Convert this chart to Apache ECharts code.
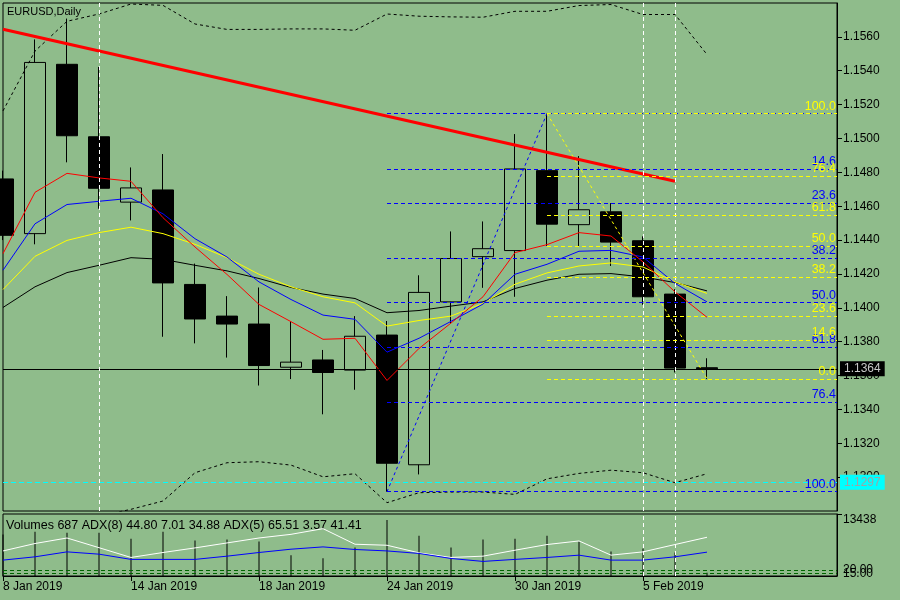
<!DOCTYPE html>
<html>
<head>
<meta charset="utf-8">
<title>EURUSD,Daily</title>
<script src="https://cdn.jsdelivr.net/npm/echarts@6/dist/echarts.min.js"></script>
<style>
    html, body { margin: 0; padding: 0; background: #8fbc8b; }
    #chart { width: 900px; height: 600px; }
</style>
</head>
<body>
<div id="chart"></div>
<script>
// daily bars, 8 Jan 2019 .. 7 Feb 2019
const dates = ['8 Jan 2019', '9 Jan 2019', '10 Jan 2019', '11 Jan 2019', '14 Jan 2019', '15 Jan 2019',
    '16 Jan 2019', '17 Jan 2019', '18 Jan 2019', '21 Jan 2019', '22 Jan 2019', '23 Jan 2019',
    '24 Jan 2019', '25 Jan 2019', '28 Jan 2019', '29 Jan 2019', '30 Jan 2019', '31 Jan 2019',
    '1 Feb 2019', '4 Feb 2019', '5 Feb 2019', '6 Feb 2019', '7 Feb 2019'];

const opens  = [1.14761, 1.14438, 1.15438, 1.15010, 1.14624, 1.14696, 1.14138, 1.13951, 1.13904, 1.13649, 1.13692, 1.13632,
    1.13839, 1.13073, 1.14035, 1.14302, 1.14338, 1.14810, 1.14491, 1.14567, 1.14396, 1.14081, 1.13646];
const closes = [1.14428, 1.15449, 1.15016, 1.14706, 1.14708, 1.14147, 1.13934, 1.13904, 1.13659, 1.13679, 1.13618, 1.13832,
    1.13082, 1.14091, 1.14291, 1.14349, 1.14820, 1.14494, 1.14579, 1.14388, 1.14065, 1.13644, 1.13640];
const lows   = [1.14400, 1.14375, 1.14859, 1.14585, 1.14516, 1.13829, 1.13790, 1.13706, 1.13541, 1.13579, 1.13371, 1.13516,
    1.12914, 1.13016, 1.13908, 1.14118, 1.14065, 1.14365, 1.14365, 1.14247, 1.14018, 1.13618, 1.13579];
const highs  = [1.14810, 1.15585, 1.15708, 1.15422, 1.14829, 1.14908, 1.14261, 1.14069, 1.14120, 1.13922, 1.13751, 1.13951,
    1.13922, 1.14192, 1.14451, 1.14510, 1.15026, 1.15147, 1.14896, 1.14618, 1.14422, 1.14110, 1.13702];

const maRed    = [1.14320, 1.14682, 1.14794, 1.14767, 1.14747, 1.14532, 1.14359, 1.14197, 1.14020, 1.13918, 1.13814, 1.13820,
    1.13571, 1.13760, 1.13910, 1.14065, 1.14326, 1.14373, 1.14444, 1.14424, 1.14271, 1.14094, 1.13944];
const maBlue   = [1.14222, 1.14496, 1.14610, 1.14629, 1.14647, 1.14555, 1.14408, 1.14300, 1.14153, 1.14049, 1.13957, 1.13932,
    1.13738, 1.13820, 1.13920, 1.14022, 1.14198, 1.14257, 1.14334, 1.14339, 1.14300, 1.14144, 1.14035];
const maYellow = [1.14108, 1.14304, 1.14398, 1.14444, 1.14476, 1.14438, 1.14375, 1.14296, 1.14198, 1.14124, 1.14065, 1.14029,
    1.13892, 1.13925, 1.13951, 1.14026, 1.14139, 1.14206, 1.14247, 1.14265, 1.14241, 1.14153, 1.14085];
const maBlack  = [1.14002, 1.14124, 1.14208, 1.14251, 1.14296, 1.14286, 1.14251, 1.14218, 1.14173, 1.14120, 1.14081, 1.14055,
    1.13971, 1.13984, 1.14010, 1.14035, 1.14114, 1.14163, 1.14198, 1.14202, 1.14182, 1.14149, 1.14100];

const bandUpper = [1.15163, 1.15516, 1.15692, 1.15735, 1.15794, 1.15786, 1.15676, 1.15644, 1.15644, 1.15647, 1.15647, 1.15639,
    1.15735, 1.15722, 1.15718, 1.15716, 1.15751, 1.15751, 1.15785, 1.15791, 1.15732, 1.15732, 1.15496];
const bandLower = [1.12620, 1.12680, 1.12730, 1.12770, 1.12810, 1.12859, 1.13026, 1.13085, 1.13091, 1.13071, 1.13002, 1.13020,
    1.12849, 1.12908, 1.12912, 1.12912, 1.12898, 1.12990, 1.13022, 1.13041, 1.13026, 1.12967, 1.13020];

// trendline and fibo anchors: [bar index, price]
const trendLine = [[0, 1.15645], [21, 1.14747]];
const fiboBlue = [[12, 1.12914], [17, 1.15147]];     // 0.0 at the high, 100.0 at the low
const fiboYellow = [[17, 1.15147], [22, 1.13581]];   // 100.0 at the high, 0.0 at the low
const fiboBlueLevels = ['0.0', '14.6', '23.6', '38.2', '50.0', '61.8', '76.4', '100.0'];
const fiboYellowLevels = ['0.0', '14.6', '23.6', '38.2', '50.0', '61.8', '76.4', '100.0'];

const bidPrice = 1.1364;
const cyanPrice = 1.1297;
const vLines = [3, 20, 21];

const volumes = [9000, 9600, 9380, 9380, 8100, 9600, 7680, 7890, 7460, 4480, 3840, 6180,
    12150, 8740, 6180, 7890, 8100, 8740, 7460, 5330, 5970, 5120, 687];
const adx5 = [46.5, 56.8, 64.5, 51.0, 37.4, 44.3, 50.7, 57.6, 64.5, 69.6, 77.5, 55.8,
    54.4, 43.8, 37.4, 39.2, 47.5, 55.4, 60.4, 40.6, 45.2, 55.4, 65.51];
const adx8 = [33.7, 38.3, 45.2, 42.0, 34.7, 34.7, 34.7, 39.2, 44.3, 48.9, 52.1, 48.5,
    46.5, 43.0, 36.0, 31.9, 34.7, 37.4, 40.6, 33.7, 33.7, 38.3, 44.80];
const adxLevels = [20, 15];

const labelTicks = [0, 4, 8, 12, 16, 20];

const BG = '#8fbc8b';
const FONT = 'Liberation Sans';
const X_MAX = 26.0625;

window.onload = function () {
    let chart = echarts.init(document.getElementById('chart'));

    function pairs(arr) {
        return arr.map((v, i) => [i, v]);
    }

    function fiboLevel(anchor, level, fromHigh) {
        let hi = Math.max(anchor[0][1], anchor[1][1]);
        let lo = Math.min(anchor[0][1], anchor[1][1]);
        let r = parseFloat(level) / 100;
        return fromHigh ? hi - (hi - lo) * r : lo + (hi - lo) * r;
    }

    function fiboMarks(anchor, levels, fromHigh, color, hideLabel) {
        let start = Math.min(anchor[0][0], anchor[1][0]);
        return {
            symbol: ['none', 'none'],
            silent: true,
            animation: false,
            precision: 5,
            lineStyle: { color: color, type: [4, 3], width: 1 },
            label: {
                show: true, position: 'insideEndTop', formatter: '{b}', distance: 1,
                color: color, fontFamily: FONT, fontSize: 12.5
            },
            data: levels.map(l => {
                let p = fiboLevel(anchor, l, fromHigh);
                return [{ name: l === hideLabel ? '' : l, coord: [start, p] }, { coord: [X_MAX, p] }];
            })
        };
    }

    function lineSeries(data, color, extra) {
        return Object.assign({
            type: 'line',
            xAxisIndex: 0,
            yAxisIndex: 0,
            data: pairs(data),
            symbol: 'none',
            silent: true,
            lineStyle: { color: color, width: 1 }
        }, extra || {});
    }

    let option = {
        backgroundColor: BG,
        animation: false,
        textStyle: { fontFamily: FONT },
        grid: [
            { left: 3, top: 3, width: 834, height: 508, show: true, borderColor: '#000', borderWidth: 1,
              backgroundColor: 'transparent', containLabel: false, outerBoundsMode: 'none' },
            { left: 3, top: 514, width: 834, height: 62, show: true, borderColor: '#000', borderWidth: 1,
              backgroundColor: 'transparent', containLabel: false, outerBoundsMode: 'none' }
        ],
        xAxis: [
            { type: 'value', gridIndex: 0, min: 0, max: X_MAX, show: false },
            {
                type: 'value', gridIndex: 1, min: 0, max: X_MAX, interval: 4,
                axisLine: { show: true, onZero: false, lineStyle: { color: '#000' } },
                axisTick: { show: true, length: 5, customValues: labelTicks, lineStyle: { color: '#000' } },
                axisLabel: {
                    show: true, customValues: labelTicks, align: 'left', margin: 5,
                    color: '#000', fontFamily: FONT, fontSize: 12,
                    formatter: v => dates[Math.round(v)] || ''
                },
                splitLine: { show: false }
            }
        ],
        yAxis: [
            {
                type: 'value', gridIndex: 0, position: 'right', min: 1.128, max: 1.158, interval: 0.002,
                axisLine: { show: true, onZero: false, lineStyle: { color: '#000' } },
                axisTick: { show: true, length: 5, lineStyle: { color: '#000' } },
                axisLabel: {
                    show: true, margin: 6,
                    color: '#000', fontFamily: FONT, fontSize: 12,
                    showMinLabel: false, showMaxLabel: false,
                    formatter: v => v.toFixed(4)
                },
                splitLine: { show: false }
            },
            {
                type: 'value', gridIndex: 1, position: 'right', min: 0, max: 13438, interval: 13438,
                axisLine: { show: true, onZero: false, lineStyle: { color: '#000' } },
                axisTick: { show: true, length: 5, lineStyle: { color: '#000' } },
                axisLabel: {
                    show: true, margin: 6, verticalAlign: 'top', showMinLabel: false,
                    color: '#000', fontFamily: FONT, fontSize: 12,
                    formatter: v => String(Math.round(v))
                },
                splitLine: { show: false }
            },
            { type: 'value', gridIndex: 1, min: 11.6, max: 97.9, show: false }
        ],
        graphic: [
            { type: 'text', left: 7, top: 6, silent: true,
              style: { text: 'EURUSD,Daily', fill: '#000', font: '11px "Liberation Sans"' } },
            { type: 'text', left: 6, top: 519, silent: true,
              style: { text: 'Volumes 687 ADX(8) 44.80 7.01 34.88 ADX(5) 65.51 3.57 41.41',
                       fill: '#000', font: '12.5px "Liberation Sans"' } }
        ],
        series: [
            {
                type: 'candlestick',
                xAxisIndex: 0,
                yAxisIndex: 0,
                silent: true,
                clip: true,
                barWidth: 22,
                encode: { x: 0, y: [1, 2, 3, 4] },
                data: opens.map((o, i) => [i, o, closes[i], lows[i], highs[i]]),
                itemStyle: {
                    color: BG, color0: '#000',
                    borderColor: '#000', borderColor0: '#000', borderWidth: 1
                },
                markLine: {
                    symbol: ['none', 'none'],
                    silent: true,
                    animation: false,
                    precision: 5,
                    data: [
                        {
                            yAxis: cyanPrice,
                            lineStyle: { color: '#00ffff', type: [5, 3], width: 1 },
                            label: { show: true, position: 'end', distance: 3, formatter: cyanPrice.toFixed(4),
                                     backgroundColor: '#00ffff', color: '#9aa6a6', padding: [2, 4, 1, 4],
                                     fontFamily: FONT, fontSize: 12 }
                        },
                        {
                            yAxis: bidPrice,
                            lineStyle: { color: '#000', type: 'solid', width: 1 },
                            label: { show: true, position: 'end', distance: 3, formatter: bidPrice.toFixed(4),
                                     backgroundColor: '#000', color: '#c8c8c8', padding: [2, 4, 1, 4],
                                     fontFamily: FONT, fontSize: 12 }
                        }
                    ].concat(vLines.map(v => ({
                        xAxis: v,
                        lineStyle: { color: '#ffffff', type: [4, 3], width: 1 },
                        label: { show: false }
                    })))
                }
            },
            lineSeries(bandUpper, '#000', { lineStyle: { color: '#000', width: 1, type: [3, 3] } }),
            lineSeries(bandLower, '#000', { lineStyle: { color: '#000', width: 1, type: [3, 3] } }),
            lineSeries(maBlack, '#000'),
            lineSeries(maYellow, '#ffff00'),
            lineSeries(maBlue, '#0000ff'),
            lineSeries(maRed, '#ff0000'),
            {
                type: 'line', xAxisIndex: 0, yAxisIndex: 0, silent: true, symbol: 'none',
                data: fiboBlue,
                lineStyle: { color: '#0000ff', width: 1, type: [3, 3] },
                markLine: fiboMarks(fiboBlue, fiboBlueLevels, true, '#0000ff', '0.0')
            },
            {
                type: 'line', xAxisIndex: 0, yAxisIndex: 0, silent: true, symbol: 'none',
                data: fiboYellow,
                lineStyle: { color: '#ffff00', width: 1, type: [3, 3] },
                markLine: fiboMarks(fiboYellow, fiboYellowLevels, false, '#ffff00', null)
            },
            {
                type: 'line', xAxisIndex: 0, yAxisIndex: 0, silent: true, symbol: 'none',
                data: trendLine,
                lineStyle: { color: '#ff0000', width: 3 }
            },
            // indicator window
            {
                type: 'bar', xAxisIndex: 1, yAxisIndex: 1, silent: true,
                barWidth: 1,
                data: pairs(volumes),
                itemStyle: { color: '#000' }
            },
            {
                type: 'line', xAxisIndex: 1, yAxisIndex: 2, silent: true, symbol: 'none',
                data: pairs(adx5),
                lineStyle: { color: '#ffffff', width: 1 },
                markLine: {
                    symbol: ['none', 'none'],
                    silent: true,
                    animation: false,
                    precision: 2,
                    lineStyle: { color: '#006400', type: [4, 3], width: 1 },
                    label: { show: true, position: 'end', distance: 6, color: '#000',
                             fontFamily: FONT, fontSize: 12, formatter: p => Number(p.value).toFixed(2) },
                    data: adxLevels.map(l => ({ yAxis: l })).concat(vLines.slice(1).map(v => ({
                        xAxis: v,
                        lineStyle: { color: '#ffffff', type: [4, 3], width: 1 },
                        label: { show: false }
                    })))
                }
            },
            {
                type: 'line', xAxisIndex: 1, yAxisIndex: 2, silent: true, symbol: 'none',
                data: pairs(adx8),
                lineStyle: { color: '#0000ff', width: 1 }
            }
        ]
    };

    chart.setOption(option);
};
</script>
</body>
</html>
